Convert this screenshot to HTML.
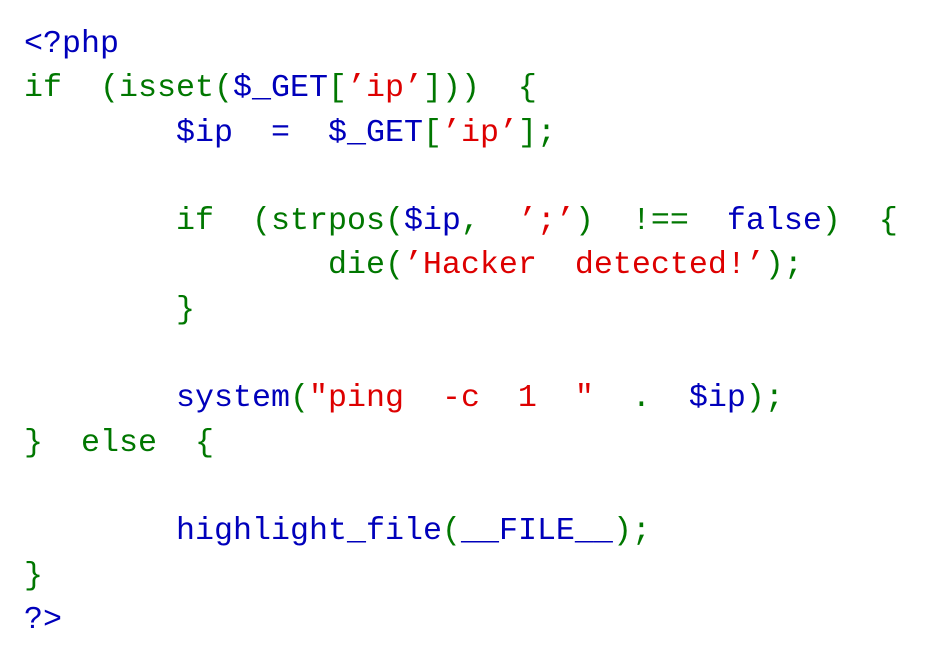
<!DOCTYPE html>
<html><head><meta charset="utf-8"><style>
html,body{margin:0;padding:0;background:#fff;width:939px;height:660px;overflow:hidden}
pre{margin:0;position:absolute;left:24px;top:22px;font-family:"Liberation Mono",monospace;font-size:31.67px;line-height:44.3px;color:#007700;white-space:pre}
.b{color:#0000BB}.r{color:#DD0000}
</style></head><body>
<pre><span class="b">&lt;?php</span>
if  (isset(<span class="b">$_GET</span>[<span class="r">’ip’</span>]))  {
        <span class="b">$ip  =  $_GET</span>[<span class="r">’ip’</span>];

        if  (strpos(<span class="b">$ip</span>,  <span class="r">’;’</span>)  !==  <span class="b">false</span>)  {
                die(<span class="r">’Hacker  detected!’</span>);
        }

        <span class="b">system</span>(<span class="r">″ping  -c  1  ″</span>  .  <span class="b">$ip</span>);
}  else  {

        <span class="b">highlight_file</span>(<span class="b">__FILE__</span>);
}
<span class="b">?&gt;</span></pre>
</body></html>
